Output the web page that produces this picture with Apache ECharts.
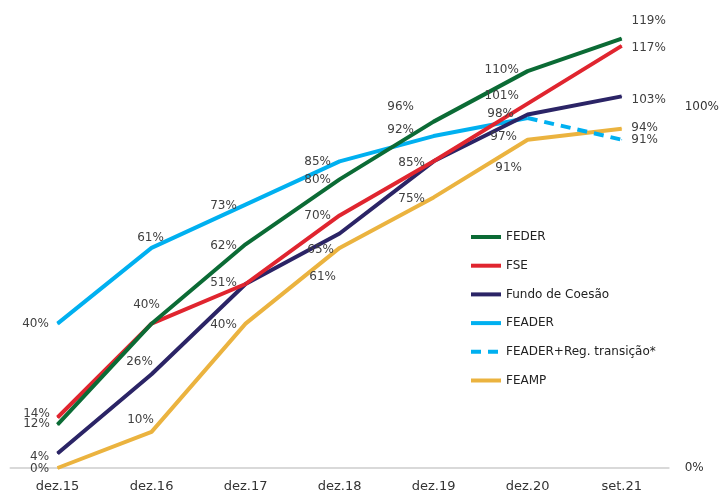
<!DOCTYPE html>
<html><head><meta charset="utf-8">
<script src="https://cdn.jsdelivr.net/npm/echarts@6/dist/echarts.min.js"></script>
<style>html,body{margin:0;padding:0;background:#fff}#c{width:722px;height:495px}</style>
</head><body><div id="c"></div>
<script>
const categories = ['dez.15','dez.16','dez.17','dez.18','dez.19','dez.20','set.21'];
const feder  = [12, 40, 62, 80, 96, 110, 119];
const fse    = [14, 40, 51, 70, 85, 101, 117];
const fundo  = [4, 26, 51, 65, 85, 98, 103];
const feader = [40, 61, 73, 85, 92, 97, null];
const feaderTrans = [null, null, null, null, null, 97, 91];
const feamp  = [0, 10, 40, 61, 75, 91, 94];
const yTicks = [0, 100];

// label offsets (null = no label)
const offFeder  = [[-21,-1],[-5,-19],[-22,2],[-22,1],[-33,-15],[-26,-1],[27,-18]];
const offFse    = [[-21,-4],null,[-22,-1],[-22,0],[-22,2],[-26,-8],[27,2]];
const offFundo  = [[-18,3],[-12,-12],null,[-19,16],null,[-27,-1],[27,3]];
const offFeader = [[-22,0],[-1,-10],[-22,1],[-22,1],[-33,-6],[-24,19],null];
const offTrans  = [null,null,null,null,null,null,[23,0]];
const offFeamp  = [[-18,1],[-11,-12],[-22,1],[-17,29],[-22,1],[-19,28],[23,-1]];

const FONT = 'DejaVu Sans';
function mk(vals, offs){
  return vals.map((v,i)=>{
    if (v===null) return null;
    const o = offs[i];
    return {value:v, label: o ? {show:true, position:'inside', offset:o, formatter: v+'%',
      color:'#404040', fontSize:12, fontFamily:FONT} : {show:false}};
  });
}
function ser(name, vals, offs, color, dashed){
  return {name, type:'line', data: mk(vals, offs), symbol:'circle', symbolSize:1,
    itemStyle:{color}, lineStyle:{color, width:4, type: dashed ? [10,7] : 'solid'},
    emphasis:{disabled:true}, animation:false, connectNulls:false, z: 2};
}
const chart = echarts.init(document.getElementById('c'));
chart.setOption({
  animation:false,
  grid:{left:10.5, right:46.5, top:17, bottom:27, containLabel:false},
  legend:{orient:'vertical', left:464, top:226, itemWidth:30, itemHeight:14, itemGap:16.7,
    textStyle:{fontFamily:FONT, fontSize:12, color:'#222'},
    itemStyle:{opacity:0}, lineStyle:{width:4},
    data:['FEDER','FSE','Fundo de Coesão','FEADER','FEADER+Reg. transição*','FEAMP']},
  xAxis:{type:'category', data:categories, boundaryGap:true,
    axisLine:{lineStyle:{color:'#d9d9d9', width:2}}, axisTick:{show:false},
    axisLabel:{fontFamily:FONT, fontSize:13, color:'#333', margin:12}},
  yAxis:{type:'value', position:'right', min:0, max:125, interval:100,
    splitLine:{show:false}, axisLine:{show:false}, axisTick:{show:false},
    axisLabel:{fontFamily:FONT, fontSize:12, color:'#333', margin:16,
      formatter: v => yTicks.includes(v) ? v+'%' : ''}},
  series:[
    ser('FEAMP', feamp, offFeamp, '#EBB33F'),
    ser('FEADER', feader, offFeader, '#00B0F0'),
    ser('FEADER+Reg. transição*', feaderTrans, offTrans, '#00B0F0', true),
    ser('Fundo de Coesão', fundo, offFundo, '#2B2466'),
    ser('FSE', fse, offFse, '#E0252F'),
    ser('FEDER', feder, offFeder, '#0B6B35')
  ]
});
</script></body></html>
